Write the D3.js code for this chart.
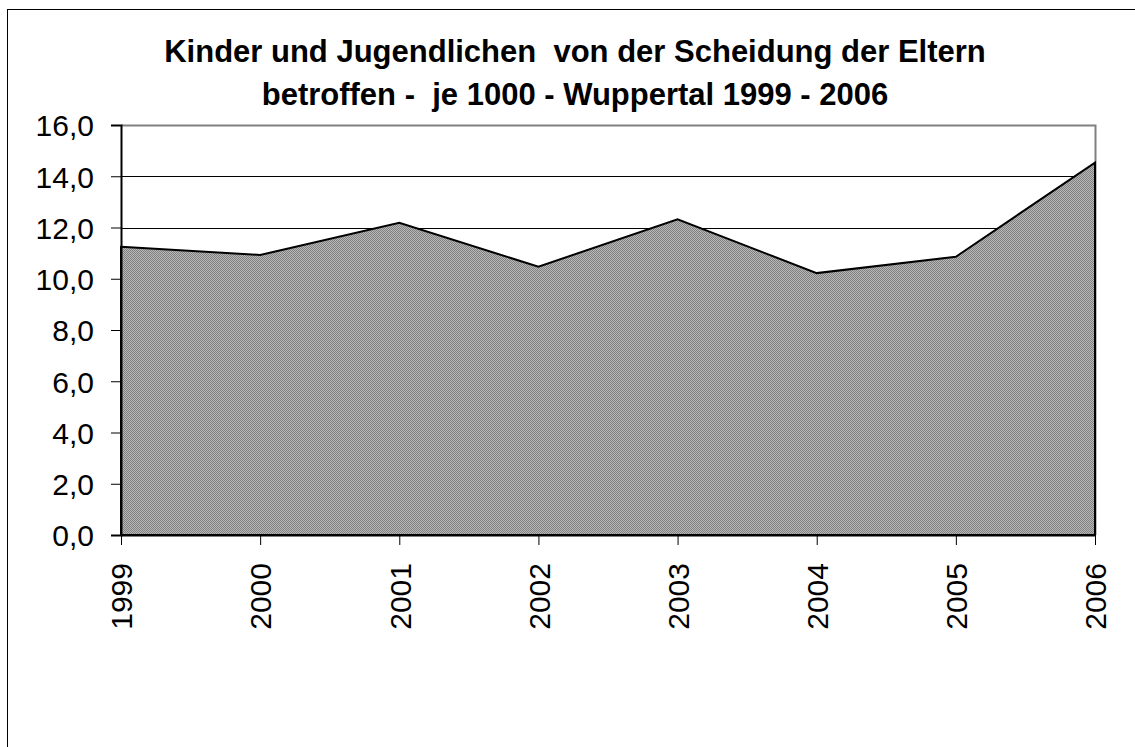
<!doctype html>
<html lang="de">
<head>
<meta charset="utf-8">
<title>Scheidungskinder Wuppertal</title>
<script src="https://d3js.org/d3.v7.min.js"></script>
<style>
    body { margin: 0; background: white; }
    svg text { font-family: "Liberation Sans", Arial, sans-serif; fill: black; }
    .title { font-weight: bold; font-size: 31px; }
    .tickLabel { font-size: 30px; }
</style>
</head>
<body>
<div id="graph"></div>
<script>
var years = ["1999", "2000", "2001", "2002", "2003", "2004", "2005", "2006"];
var values = [11.25, 10.93, 12.18, 10.47, 12.32, 10.22, 10.86, 14.53];
var yTicks = [0, 2, 4, 6, 8, 10, 12, 14, 16];
var titleLines = ["Kinder und Jugendlichen  von der Scheidung der Eltern",
                  "betroffen -  je 1000 - Wuppertal 1999 - 2006"];

var W = 1135, H = 747;
// plot box (note: "top" is reserved on window, so use pTop etc.)
var pLeft = 121, pRight = 1095, pTop = 125, pBottom = 535;

var svg = d3.select("#graph").append("svg")
    .attr("width", W).attr("height", H);

// outer chart border (only left/top inside the picture)
svg.append("rect")
    .attr("x", 7.5).attr("y", 9.5)
    .attr("width", W + 20).attr("height", H + 20)
    .attr("fill", "white").attr("stroke", "black").attr("stroke-width", 1);

// 50% dot pattern
var pat = svg.append("defs").append("pattern")
    .attr("id", "dots").attr("patternUnits", "userSpaceOnUse")
    .attr("width", 2).attr("height", 2);
pat.append("rect").attr("width", 2).attr("height", 2).attr("fill", "#b8b8b8");
pat.append("rect").attr("width", 1).attr("height", 1).attr("fill", "#808080");
pat.append("rect").attr("x", 1).attr("y", 1).attr("width", 1).attr("height", 1).attr("fill", "#808080");

var x = d3.scalePoint().domain(years).range([pLeft, pRight]);
var y = d3.scaleLinear().domain([0, 16]).range([pBottom, pTop]);

// title
svg.selectAll(".title").data(titleLines).enter().append("text")
    .attr("class", "title")
    .attr("x", 575)
    .attr("y", function(d, i) { return i == 0 ? 62 : 105; })
    .attr("text-anchor", "middle")
    .style("white-space", "pre")
    .text(function(d) { return d; });

// gridlines
svg.append("g").selectAll("line")
    .data(yTicks.filter(function(d) { return d > 0 && d < 16; }))
    .enter().append("line")
    .attr("x1", pLeft).attr("x2", pRight)
    .attr("y1", function(d) { return Math.round(y(d)) + 0.5; })
    .attr("y2", function(d) { return Math.round(y(d)) + 0.5; })
    .attr("stroke", "black").attr("stroke-width", 1);

// plot border top/right
svg.append("path")
    .attr("d", "M" + pLeft + "," + (pTop + 0.5) + "H" + (pRight + 0.5) + "V" + pBottom)
    .attr("fill", "none").attr("stroke", "#808080").attr("stroke-width", 2);

// area
var area = d3.area()
    .x(function(d, i) { return x(years[i]); })
    .y0(y(0))
    .y1(function(d) { return y(d); });

svg.append("path")
    .datum(values)
    .attr("d", area)
    .attr("fill", "url(#dots)")
    .attr("stroke", "black").attr("stroke-width", 2)
    .attr("stroke-linejoin", "miter");

// y axis
var yAxis = d3.axisLeft(y)
    .tickValues(yTicks)
    .tickSize(10)
    .tickPadding(17)
    .tickFormat(function(d) { return d3.format(".1f")(d).replace(".", ","); });

var gy = svg.append("g")
    .attr("transform", "translate(" + pLeft + ",0)")
    .call(yAxis);
gy.select(".domain").attr("stroke", "black").attr("stroke-width", 2);
gy.selectAll(".tick line").attr("stroke", "black");
gy.selectAll(".tick text")
    .attr("class", "tickLabel")
    .attr("font-size", null).attr("font-family", null)
    .attr("dy", "0.36em");

// x axis
var xAxis = d3.axisBottom(x).tickSize(10).tickSizeOuter(0);
var gx = svg.append("g")
    .attr("transform", "translate(0," + pBottom + ")")
    .call(xAxis);
gx.select(".domain").attr("stroke", "black").attr("stroke-width", 2);
gx.selectAll(".tick line").attr("stroke", "black");
gx.selectAll(".tick text")
    .attr("class", "tickLabel")
    .attr("font-size", null).attr("font-family", null)
    .attr("text-anchor", "end")
    .attr("transform", "rotate(-90)")
    .attr("x", -28)
    .attr("y", 0)
    .attr("dy", "0.36em");
</script>
</body>
</html>
